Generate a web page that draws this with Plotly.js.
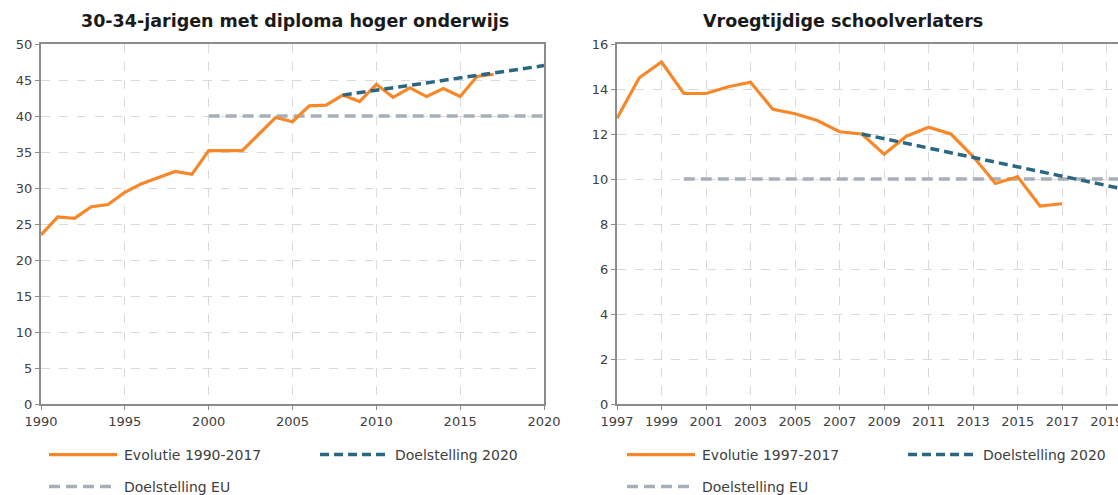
<!DOCTYPE html>
<html>
<head>
<meta charset="utf-8">
<script src="https://cdn.plot.ly/plotly-3.0.1.min.js"></script>
<style>
html,body{margin:0;padding:0;overflow:hidden;background:#fff;}
#chart{width:1140px;height:495px;}
</style>
</head>
<body>
<div id="chart"></div>
<script>
// ---- Data: left chart (30-34-jarigen met diploma hoger onderwijs) ----
const yearsLeft = [1990,1991,1992,1993,1994,1995,1996,1997,1998,1999,2000,2001,2002,2003,2004,2005,2006,2007,2008,2009,2010,2011,2012,2013,2014,2015,2016,2017];
const evolLeft  = [23.5,26.0,25.8,27.4,27.7,29.4,30.6,31.5,32.3,31.9,35.2,35.2,35.2,37.5,39.8,39.2,41.4,41.5,42.9,42.0,44.4,42.6,43.9,42.7,43.8,42.7,45.5,45.8];
const targetYearsLeft = [2008,2020];
const targetLeft = [42.9,47.0];
const euYearsLeft = [2000,2020];
const euLeft = [40,40];

// ---- Data: right chart (Vroegtijdige schoolverlaters) ----
const yearsRight = [1997,1998,1999,2000,2001,2002,2003,2004,2005,2006,2007,2008,2009,2010,2011,2012,2013,2014,2015,2016,2017];
const evolRight  = [12.7,14.5,15.2,13.8,13.8,14.1,14.3,13.1,12.9,12.6,12.1,12.0,11.1,11.9,12.3,12.0,11.0,9.8,10.1,8.8,8.9];
const targetYearsRight = [2008,2020];
const targetRight = [12.0,9.5];
const euYearsRight = [2000,2020];
const euRight = [10,10];

// ---- Labels ----
const titleLeft = '30-34-jarigen met diploma hoger onderwijs';
const titleRight = 'Vroegtijdige schoolverlaters';
const nameEvolLeft = 'Evolutie 1990-2017';
const nameEvolRight = 'Evolutie 1997-2017';
const nameTarget = 'Doelstelling 2020';
const nameEU = 'Doelstelling EU';

const ORANGE = '#F7882A';
const TEAL = '#2B6780';
const GREY = '#A7AFBA';
const FONT = 'DejaVu Sans, sans-serif';

const traces = [
  {x: euYearsLeft, y: euLeft, name: nameEU, type: 'scatter', mode: 'lines',
   line: {color: GREY, width: 3.5, dash: '11px,6px'}, xaxis: 'x', yaxis: 'y', legend: 'legend2'},
  {x: yearsLeft, y: evolLeft, name: nameEvolLeft, type: 'scatter', mode: 'lines',
   line: {color: ORANGE, width: 3.2}, xaxis: 'x', yaxis: 'y', legend: 'legend', legendrank: 1},
  {x: targetYearsLeft, y: targetLeft, name: nameTarget, type: 'scatter', mode: 'lines',
   line: {color: TEAL, width: 3.5, dash: '9px,5px'}, xaxis: 'x', yaxis: 'y', legend: 'legend', legendrank: 2},

  {x: euYearsRight, y: euRight, name: nameEU, type: 'scatter', mode: 'lines',
   line: {color: GREY, width: 3.5, dash: '11px,6px'}, xaxis: 'x2', yaxis: 'y2', legend: 'legend4'},
  {x: yearsRight, y: evolRight, name: nameEvolRight, type: 'scatter', mode: 'lines',
   line: {color: ORANGE, width: 3.2}, xaxis: 'x2', yaxis: 'y2', legend: 'legend3', legendrank: 1},
  {x: targetYearsRight, y: targetRight, name: nameTarget, type: 'scatter', mode: 'lines',
   line: {color: TEAL, width: 3.5, dash: '9px,5px'}, xaxis: 'x2', yaxis: 'y2', legend: 'legend3', legendrank: 2}
];

const W = 1140, H = 495;
const ML = 41, MR = 11, MT = 44, MB = 91;
const PW = W - ML - MR;
const leftEnd = (544 - ML) / PW;
const rightStart = (617 - ML) / PW;

function axisBase() {
  return {
    showline: true, linecolor: '#8C8C8C', linewidth: 2, mirror: true,
    ticks: 'outside', ticklen: 4, tickcolor: '#8C8C8C', tickwidth: 1,
    showgrid: true, gridcolor: '#D9D9D9', griddash: 'dash', gridwidth: 1,
    zeroline: false, fixedrange: true, tickangle: 0, automargin: false,
    tickfont: {family: FONT, size: 13, color: '#404040'}
  };
}

const legendBase = {
  orientation: 'h', xanchor: 'left', yanchor: 'top',
  font: {family: FONT, size: 14, color: '#404040'},
  bgcolor: 'rgba(0,0,0,0)', entrywidth: 226, entrywidthmode: 'pixels',
  itemclick: false, itemdoubleclick: false
};

const rowY1 = -(439 - 404) / 360;
const rowY2 = -(471 - 404) / 360;
const legLeftX = (44 - ML) / PW;
const legRightX = (622 - ML) / PW;

const layout = {
  width: W, height: H,
  margin: {l: ML, r: MR, t: MT, b: MB, autoexpand: false},
  paper_bgcolor: '#fff', plot_bgcolor: '#fff',
  showlegend: true,
  xaxis: Object.assign(axisBase(), {domain: [0, leftEnd], range: [1990, 2020], tick0: 1990, dtick: 5, anchor: 'y'}),
  yaxis: Object.assign(axisBase(), {domain: [0, 1], range: [0, 50], tick0: 0, dtick: 5, anchor: 'x'}),
  xaxis2: Object.assign(axisBase(), {domain: [rightStart, 1], range: [1997, 2020], tick0: 1997, dtick: 2, anchor: 'y2'}),
  yaxis2: Object.assign(axisBase(), {domain: [0, 1], range: [0, 16], tick0: 0, dtick: 2, anchor: 'x2'}),
  legend:  Object.assign({}, legendBase, {x: legLeftX, y: rowY1}),
  legend2: Object.assign({}, legendBase, {x: legLeftX, y: rowY2}),
  legend3: Object.assign({}, legendBase, {x: legRightX, y: rowY1, entrywidth: 236}),
  legend4: Object.assign({}, legendBase, {x: legRightX, y: rowY2, entrywidth: 236}),
  annotations: [
    {text: '<b>' + titleLeft + '</b>', xref: 'paper', yref: 'paper', x: (295 - ML) / PW, y: 1, yshift: 23,
     xanchor: 'center', yanchor: 'middle', showarrow: false, font: {family: FONT, size: 17.5, color: '#1a1a1a'}},
    {text: '<b>' + titleRight + '</b>', xref: 'paper', yref: 'paper', x: (843 - ML) / PW, y: 1, yshift: 23,
     xanchor: 'center', yanchor: 'middle', showarrow: false, font: {family: FONT, size: 17.5, color: '#1a1a1a'}}
  ]
};

// lengthen legend line samples and shift their labels to match the original key length
function fixLegendKeys(gd) {
  gd.querySelectorAll('.legendlines').forEach(function (lg) {
    lg.querySelectorAll('path').forEach(function (p) {
      if (p.getAttribute('d') !== 'M5,0h68') p.setAttribute('d', 'M5,0h68');
    });
    var g = lg.parentNode;
    while (g && g !== gd && !g.querySelector('text')) g = g.parentNode;
    if (g && g !== gd) {
      g.querySelectorAll('text').forEach(function (t) {
        if (t.getAttribute('transform') !== 'translate(40,0)') t.setAttribute('transform', 'translate(40,0)');
      });
    }
  });
}

const gdEl = document.getElementById('chart');
Plotly.newPlot(gdEl, traces, layout, {displayModeBar: false, staticPlot: true}).then(function (gd) {
  fixLegendKeys(gd);
  gd.on('plotly_afterplot', function () { fixLegendKeys(gd); });
  setTimeout(function () { fixLegendKeys(gd); }, 30);
  setTimeout(function () { fixLegendKeys(gd); }, 200);
});
</script>
</body>
</html>
